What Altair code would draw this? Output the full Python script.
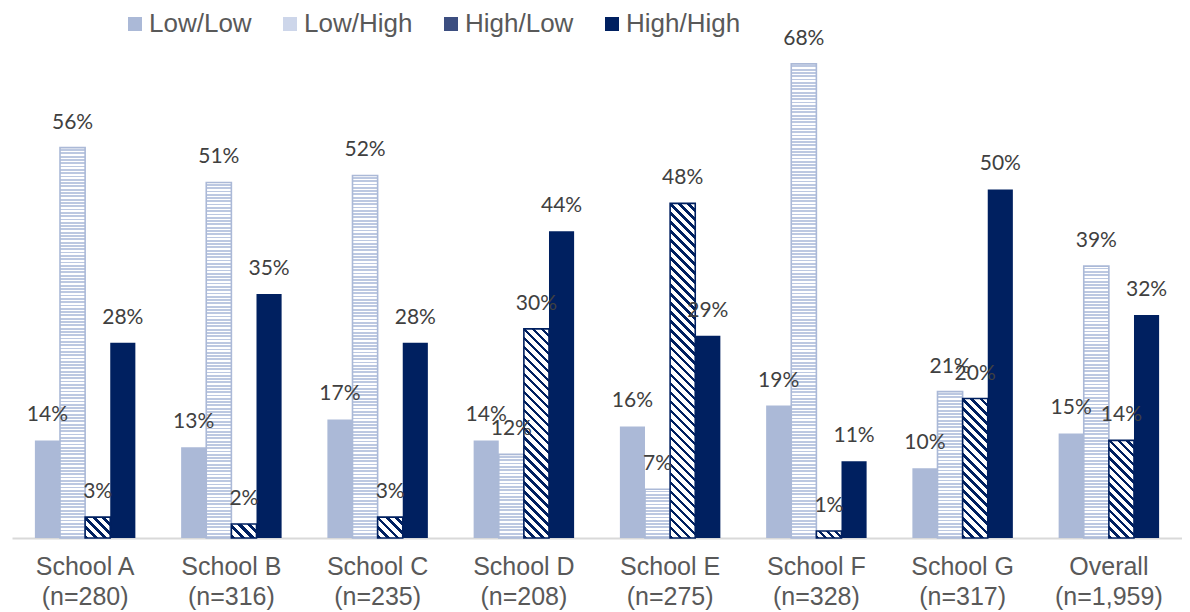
import math
import altair as alt
import pandas as pd

# ---- data ----
schools = ["School A", "School B", "School C", "School D", "School E", "School F", "School G", "Overall"]
ns = ["(n=280)", "(n=316)", "(n=235)", "(n=208)", "(n=275)", "(n=328)", "(n=317)", "(n=1,959)"]
series = ["Low/Low", "Low/High", "High/Low", "High/High"]
low_low = [14, 13, 17, 14, 16, 19, 10, 15]
low_high = [56, 51, 52, 12, 7, 68, 21, 39]
high_low = [3, 2, 3, 30, 48, 1, 20, 14]
high_high = [28, 35, 28, 44, 29, 11, 50, 32]

labels = [f"{s}|{n}" for s, n in zip(schools, ns)]
rows = []
for i, lab in enumerate(labels):
    for s, vals in zip(series, [low_low, low_high, high_low, high_high]):
        rows.append({"group": lab, "series": s, "value": vals[i] / 100})
df = pd.DataFrame(rows)

# ---- style / geometry ----
NAVY = "#002060"
LIGHT = "#ABB9D7"
W, H, YMAX, PI = 1170, 495, 0.71, 0.313
step = W / len(labels)
barw = step * (1 - PI) / len(series)
pxper = H / YMAX


def hatch(v):
    w = barw
    h = max(v * pxper, 1.0)
    t = (w + h) / (w * w + h * h)
    x2, y2 = t * w, 1 - t * h
    n = max(1, round((w + h) / math.sqrt(2) / 6.4))
    f = 0.42
    stops = []
    for k in range(n):
        a, b, c = k / n, (k + f) / n, (k + 1) / n
        stops += [alt.GradientStop(offset=a, color=NAVY), alt.GradientStop(offset=b, color=NAVY),
                  alt.GradientStop(offset=b, color="#ffffff"), alt.GradientStop(offset=min(c, 1.0), color="#ffffff")]
    return alt.LinearGradient(gradient="linear", stops=stops, x1=0, y1=1, x2=x2, y2=y2)


def dots(v):
    h = max(v * pxper, 1.0)
    n = max(1, round(h / 3.3))
    f = 0.45
    stops = []
    for k in range(n):
        a, b, c = k / n, (k + f) / n, (k + 1) / n
        stops += [alt.GradientStop(offset=a, color="#ffffff"), alt.GradientStop(offset=b, color="#ffffff"),
                  alt.GradientStop(offset=b, color="#BCC8E1"), alt.GradientStop(offset=min(c, 1.0), color="#BCC8E1")]
    return alt.LinearGradient(gradient="linear", stops=stops, x1=0, y1=0, x2=0, y2=1)


x_enc = alt.X("group:N", scale=alt.Scale(domain=labels, paddingInner=PI, paddingOuter=PI / 2),
              axis=alt.Axis(title=None, labelAngle=0, ticks=False, tickSize=0, domainColor="#D9D9D9",
                            domainWidth=2, labelFont="Liberation Sans", labelFontSize=25,
                            labelColor="#595959", labelPadding=16, labelLineHeight=30,
                            labelExpr="split(datum.label, '|')"))
xo_enc = alt.XOffset("series:N", scale=alt.Scale(domain=series))
y_enc = alt.Y("value:Q", scale=alt.Scale(domain=[0, YMAX]), axis=None)

base = alt.Chart(df)

main = base.mark_bar().encode(
    x=x_enc, xOffset=xo_enc, y=y_enc,
    color=alt.Color("series:N",
                    scale=alt.Scale(domain=series, range=[LIGHT, "#CDD6EA", "#3C4E80", NAVY]),
                    legend=alt.Legend(title=None, orient="none", legendX=110, legendY=-32,
                                      direction="horizontal", symbolType="square", symbolSize=196,
                                      labelFont="Liberation Sans", labelFontSize=26,
                                      labelColor="#595959", labelOffset=1, columnPadding=25,
                                      padding=0, symbolStrokeWidth=0)),
)

layers = [main]
for i, lab in enumerate(labels):
    layers.append(
        base.transform_filter((alt.datum.group == lab) & (alt.datum.series == "Low/High"))
        .mark_bar(fill=dots(low_high[i] / 100), stroke=LIGHT, strokeWidth=1.6)
        .encode(x=x_enc, xOffset=xo_enc, y=y_enc)
    )
    layers.append(
        base.transform_filter((alt.datum.group == lab) & (alt.datum.series == "High/Low"))
        .mark_bar(fill=hatch(high_low[i] / 100), stroke=NAVY, strokeWidth=1.6)
        .encode(x=x_enc, xOffset=xo_enc, y=y_enc)
    )

text = base.mark_text(font="Lato", fontSize=21, color="#404040", baseline="middle", dy=-25).encode(
    x=x_enc, xOffset=xo_enc, y=y_enc, text=alt.Text("value:Q", format=".0%")
)
layers.append(text)

chart = alt.layer(*layers).properties(
    width=W, height=H,
    autosize=alt.AutoSizeParams(type="none"),
    padding={"left": 4, "top": 35, "right": 0, "bottom": 72},
).configure_view(stroke=None)

chart.save("out.html", embed_options={"renderer": "svg", "actions": False})
